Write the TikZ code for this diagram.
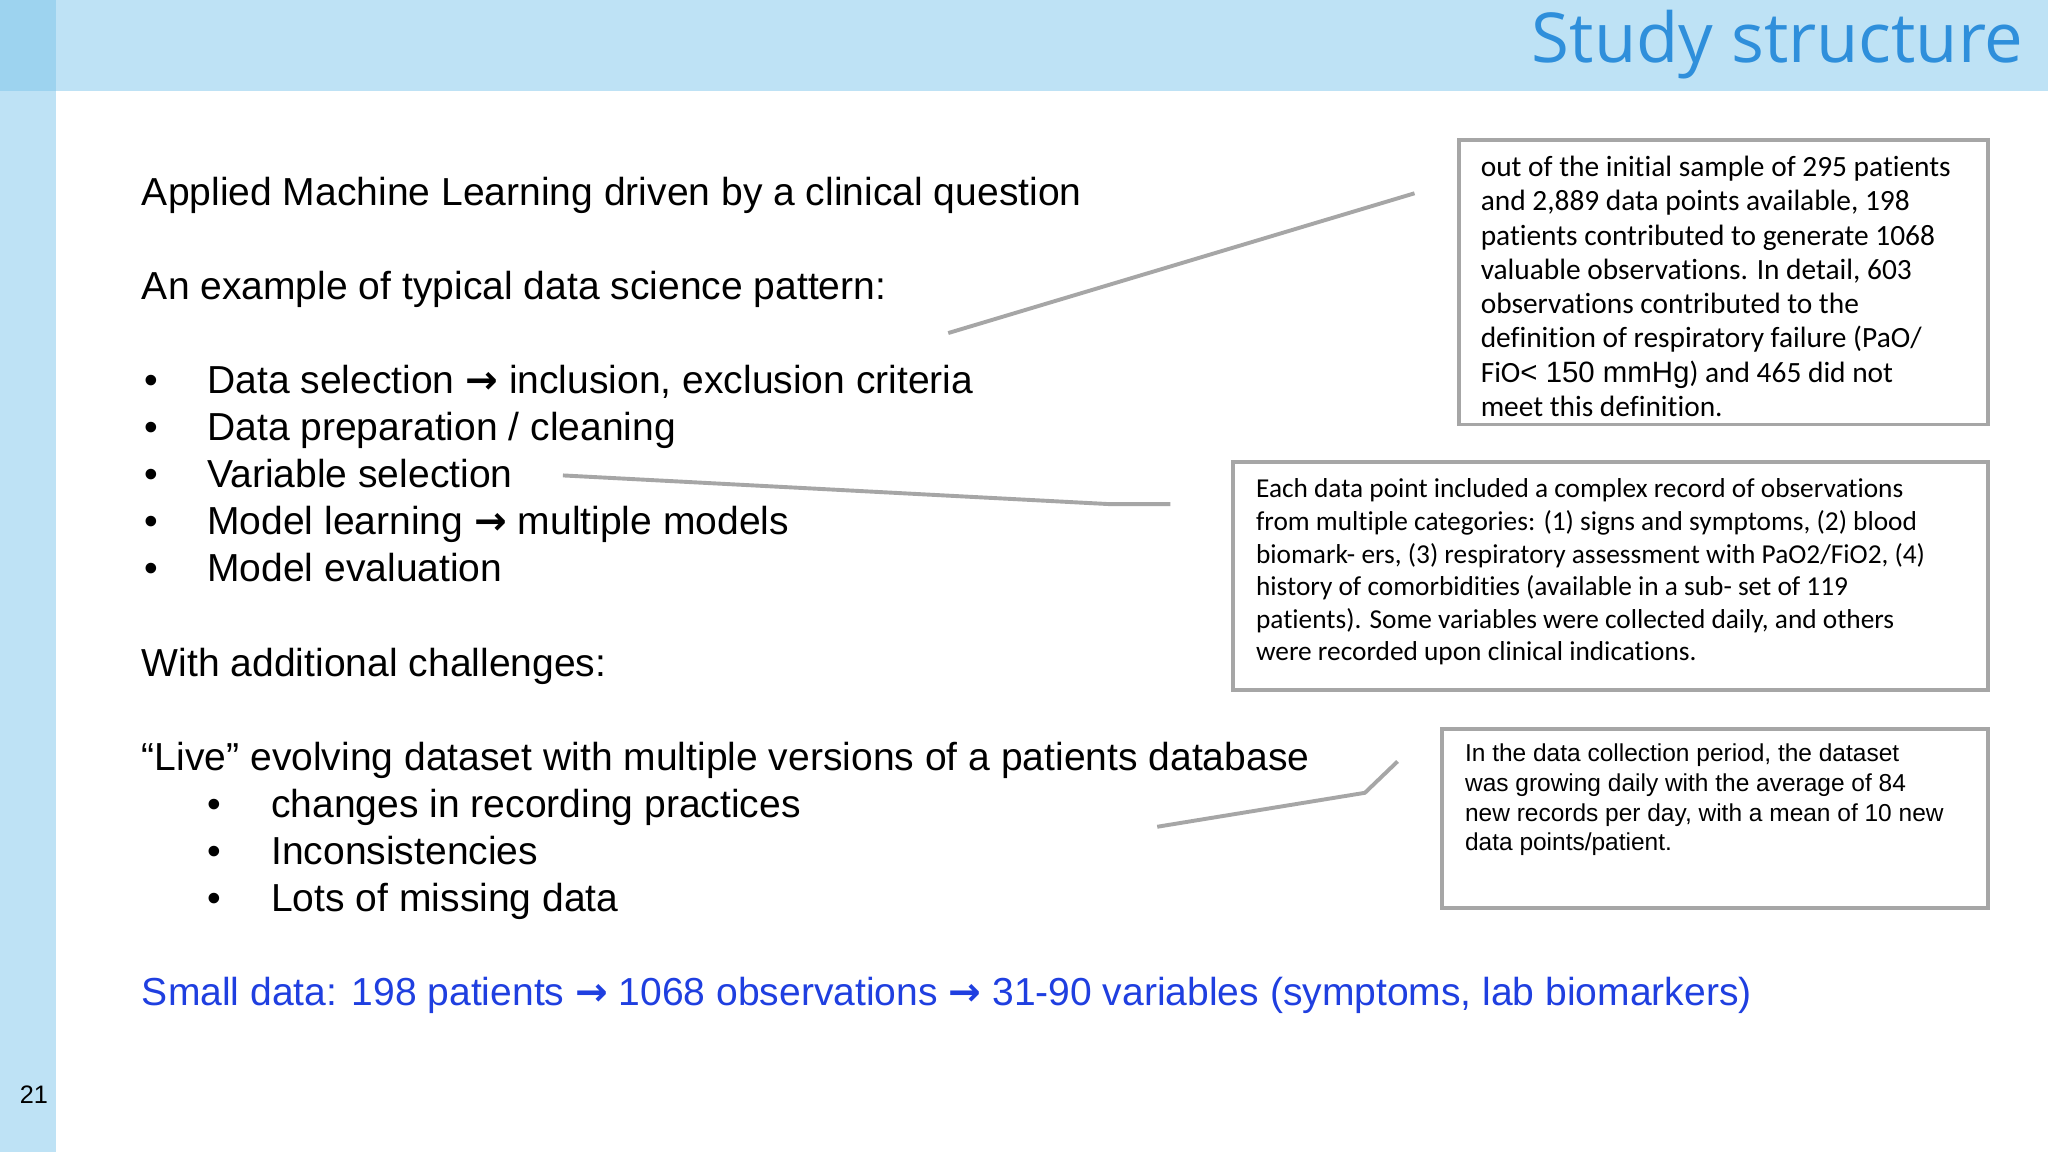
\documentclass[tikz,border=0pt]{standalone}
\usepackage{fontspec}
\setmainfont{Liberation Sans}
\newfontfamily\carlitofont[Ligatures=NoCommon]{Carlito}
\newfontfamily\titlefont{Open Sans}
\newfontfamily\arrowfont{DejaVu Sans}
\newcommand{\bigarrow}{{\arrowfont\bfseries →}}
\definecolor{barblue}{HTML}{BEE2F5}
\definecolor{cornerblue}{HTML}{9DD3EF}
\definecolor{titleblue}{HTML}{2F8FDB}
\definecolor{linkblue}{HTML}{1F3FE0}
\definecolor{boxgray}{HTML}{A6A6A6}
\begin{document}
\begin{tikzpicture}[x=0.01cm,y=-0.01cm,
  main/.style={anchor=base west,inner sep=0,font=\fontsize{8.5}{10}\selectfont},
  infobox/.style={draw=boxgray,line width=0.85pt},
  boxtext/.style={anchor=north west,inner sep=0,align=left},
  lead/.style={draw=boxgray,line width=0.85pt}]
\useasboundingbox (0,0) rectangle (1568,882);
\fill[white] (0,0) rectangle (1568,882);
\fill[barblue] (0,0) rectangle (1568,70);
\fill[barblue] (0,0) rectangle (43,882);
\fill[cornerblue] (0,0) rectangle (43,70);
\node[anchor=base east,inner sep=0,text=titleblue,font=\titlefont\fontsize{15}{18}\selectfont] (title) at (1550,48) {Study structure};
\node[anchor=base,inner sep=0,font=\fontsize{5.5}{7}\selectfont] (pg) at (26,845) {21};

\node[main] (t1) at (108,157) {Applied Machine Learning driven by a clinical question};
\node[main] (t2) at (108,229) {An example of typical data science pattern:};
\foreach \y/\t [count=\i] in {301/{Data selection \bigarrow{} inclusion, exclusion criteria},337/{Data preparation / cleaning},373/{Variable selection},409/{Model learning \bigarrow{} multiple models},445/{Model evaluation}}{
  \node[main] (b\i) at (110,\y) {•};
  \node[main] (bt\i) at (158,\y) {\t};
}
\node[main] (t3) at (108,518) {With additional challenges:};
\node[main] (t4) at (108,590) {“Live” evolving dataset with multiple versions of a patients database};
\foreach \y/\t [count=\i] in {626/{changes in recording practices},662/{Inconsistencies},698/{Lots of missing data}}{
  \node[main] (s\i) at (158,\y) {•};
  \node[main] (st\i) at (207,\y) {\t};
}
\node[main,text=linkblue] (t5) at (108,770) {Small data: 198 patients \bigarrow{} 1068 observations \bigarrow{} 31-90 variables (symptoms, lab biomarkers)};

\draw[infobox] (1117,107) rectangle (1522,325);
\node[boxtext,font=\carlitofont\fontsize{6.4}{7.45}\selectfont] (box1) at (1133,119) {out of the initial sample of 295 patients\\and 2,889 data points available, 198\\patients contributed to generate 1068\\valuable observations. In detail, 603\\observations contributed to the\\definition of respiratory failure (PaO/\\FiO{\fontspec{Liberation Sans}< 150 mmHg}) and 465 did not\\meet this definition.};
\draw[infobox] (944,354) rectangle (1522,528);
\node[boxtext,font=\carlitofont\fontsize{5.95}{7.1}\selectfont] (box2) at (961,366) {Each data point included a complex record of observations\\from multiple categories: (1) signs and symptoms, (2) blood\\biomark- ers, (3) respiratory assessment with PaO2/FiO2, (4)\\history of comorbidities (available in a sub- set of 119\\patients). Some variables were collected daily, and others\\were recorded upon clinical indications.};
\draw[infobox] (1104,558) rectangle (1522,695);
\node[boxtext,font=\fontsize{5.33}{6.45}\selectfont] (box3) at (1121,569) {In the data collection period, the dataset\\was growing daily with the average of 84\\new records per day, with a mean of 10 new\\data points/patient.};

\coordinate (l1a) at (726,255); \coordinate (l1b) at (1083,148);
\draw[lead] (l1a) -- (l1b);
\coordinate (l2a) at (431,364); \coordinate (l2m) at (850,386); \coordinate (l2b) at (896,386);
\draw[lead] (l2a) -- (l2m) -- (l2b);
\coordinate (l3a) at (886,633); \coordinate (l3m) at (1045,607); \coordinate (l3b) at (1070,583);
\draw[lead] (l3a) -- (l3m) -- (l3b);
\end{tikzpicture}
\end{document}
